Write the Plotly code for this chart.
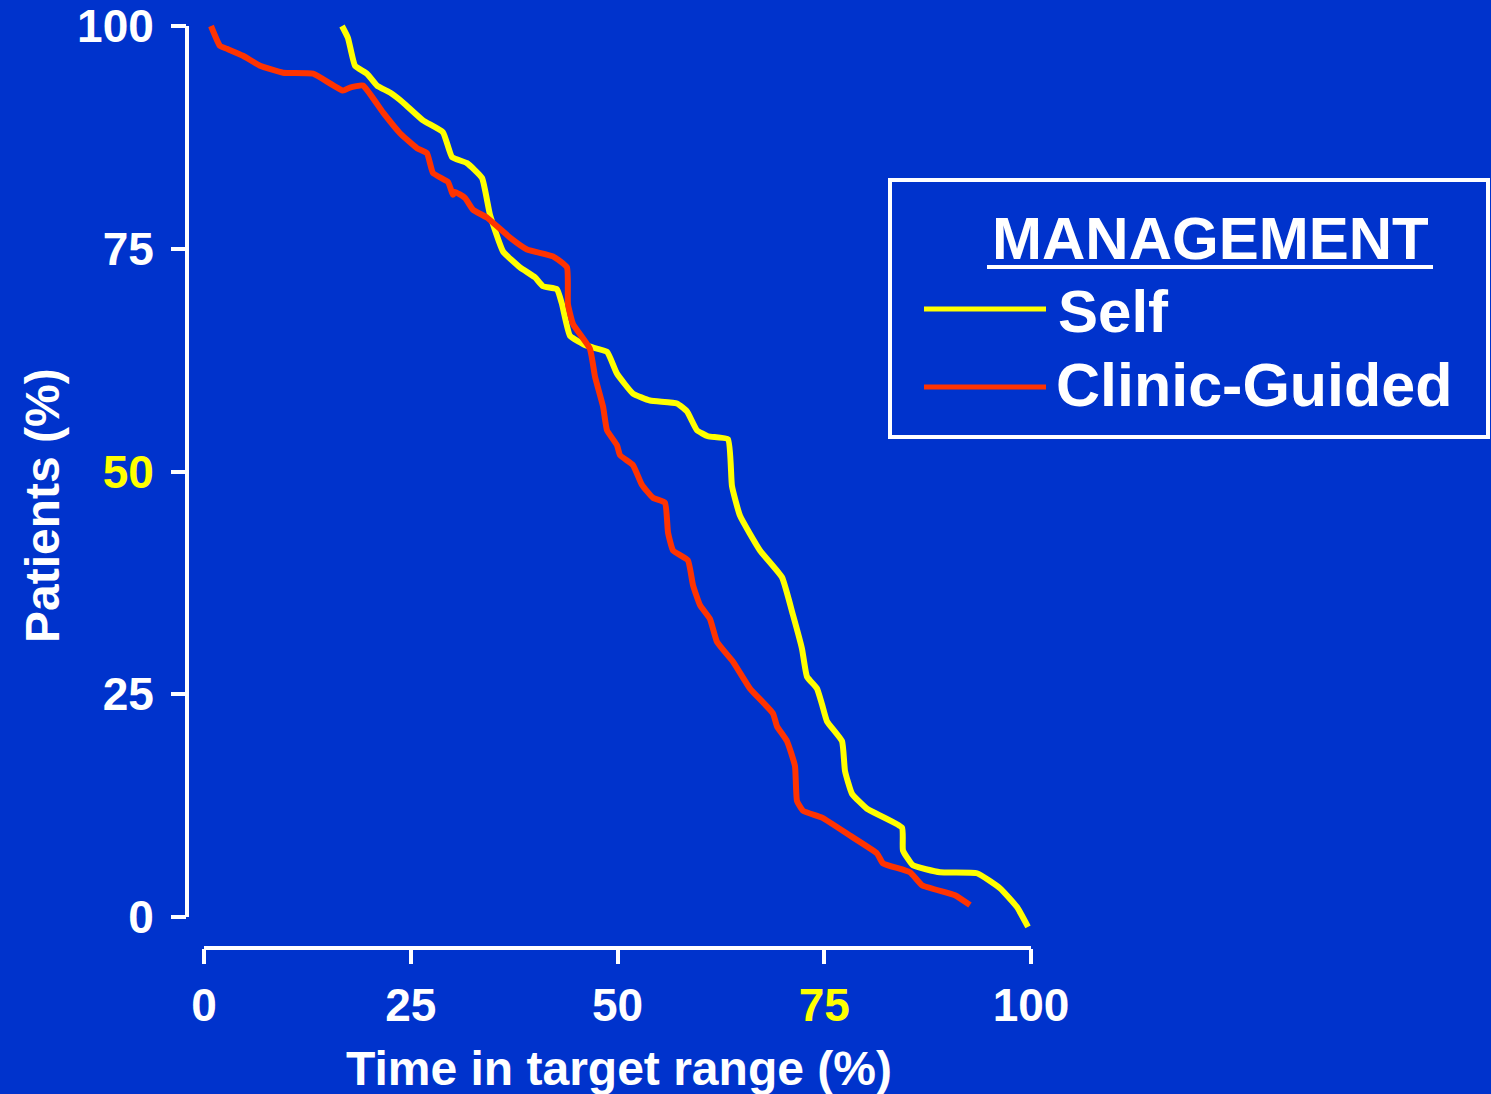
import plotly.graph_objects as go

# Self management curve (time in target range % vs patients %)
self_x = [16.69, 17.41, 18.26, 19.71, 20.92, 22.49, 24.06, 26.48, 28.90, 29.99,
          31.80, 33.62, 34.58, 36.16, 38.21, 40.02, 40.99, 42.68, 43.29, 44.26,
          46.31, 48.73, 49.94, 51.87, 53.93, 57.19, 58.40, 59.61, 60.94, 63.36,
          63.84, 64.81, 67.23, 69.89, 71.22, 72.31, 72.91, 74.12, 74.73, 75.33,
          77.15, 77.51, 78.36, 80.17, 84.40, 84.52, 85.73, 89.00, 93.47, 96.25,
          98.31, 99.64]
self_y = [100.0, 98.66, 95.54, 94.65, 93.31, 92.53, 91.42, 89.41, 88.07, 85.28,
          84.61, 82.94, 78.82, 74.69, 72.91, 71.79, 70.79, 70.46, 68.78, 65.22,
          64.10, 63.43, 60.98, 58.75, 57.97, 57.64, 56.74, 54.63, 53.96, 53.62,
          48.38, 45.04, 41.14, 38.13, 33.89, 30.10, 26.98, 25.64, 23.86, 21.96,
          19.73, 16.39, 13.82, 12.15, 10.03, 7.47, 5.80, 5.02, 4.91, 3.23,
          1.11, -1.11]

# Clinic-guided curve
clinic_x = [0.85, 1.93, 2.78, 4.72, 6.77, 9.55, 13.18, 16.81, 17.65, 19.23,
            21.64, 23.70, 25.76, 26.96, 27.69, 29.50, 30.11, 30.35, 31.56, 32.53,
            34.22, 37.00, 39.06, 42.20, 43.89, 44.01, 44.62, 46.67, 47.28, 48.25,
            48.73, 49.94, 50.30, 51.87, 52.96, 54.29, 55.74, 56.11, 56.71, 58.52,
            59.13, 59.98, 61.19, 62.03, 63.97, 66.02, 68.80, 69.29, 70.50, 71.46,
            71.70, 72.43, 74.73, 78.11, 81.38, 82.10, 85.37, 86.82, 90.81, 92.62]
clinic_y = [100.0, 97.77, 97.44, 96.66, 95.54, 94.76, 94.65, 92.75, 93.09, 93.31,
            90.30, 87.96, 86.29, 85.73, 83.50, 82.50, 81.05, 81.38, 80.71, 79.38,
            78.49, 76.25, 74.92, 74.14, 72.91, 68.78, 66.56, 63.77, 60.65, 57.30,
            54.63, 52.95, 51.84, 50.72, 48.49, 47.05, 46.49, 43.14, 41.14, 40.03,
            37.24, 35.00, 33.44, 30.88, 28.65, 25.64, 22.85, 21.40, 19.73, 16.95,
            13.04, 11.93, 11.15, 9.14, 7.13, 6.02, 5.02, 3.57, 2.45, 1.34]

tick_vals = [0, 25, 50, 75, 100]
y_tick_text = ["0", "25", "<span style='color:#FFFF00'>50</span>", "75", "100"]
x_tick_text = ["0", "25", "50", "<span style='color:#FFFF00'>75</span>", "100"]

BG = "#0033CC"
YELLOW = "#FFFF00"
RED = "#FF3300"
FONT = "Liberation Sans, Arial, sans-serif"

W, H = 1491, 1094
L, R, T, B = 187, 1040, 16, 948  # plot area in pixels
XS = 8.27  # px per x unit
YS = 8.91  # px per y unit


def px(x):
    return (x - L) / (R - L)


def py(y):
    return (B - y) / (B - T)


fig = go.Figure()
fig.add_trace(go.Scatter(x=self_x, y=self_y, mode="lines", name="Self",
                         line=dict(color=YELLOW, width=6, shape="spline", smoothing=0.4),
                         cliponaxis=False))
fig.add_trace(go.Scatter(x=clinic_x, y=clinic_y, mode="lines", name="Clinic-Guided",
                         line=dict(color=RED, width=6, shape="spline", smoothing=0.4),
                         cliponaxis=False))

shapes = [
    # detached axis lines
    dict(type="line", xref="x", yref="paper", x0=0, x1=100, y0=0, y1=0,
         line=dict(color="white", width=4)),
    dict(type="line", xref="paper", yref="y", x0=0, x1=0, y0=0, y1=100,
         line=dict(color="white", width=4)),
    # legend box
    dict(type="rect", xref="paper", yref="paper", x0=px(890), x1=px(1488),
         y0=py(437), y1=py(180), line=dict(color="white", width=4)),
    dict(type="line", xref="paper", yref="paper", x0=px(987), x1=px(1433),
         y0=py(267), y1=py(267), line=dict(color="white", width=4)),
    dict(type="line", xref="paper", yref="paper", x0=px(924), x1=px(1046),
         y0=py(309), y1=py(309), line=dict(color=YELLOW, width=5)),
    dict(type="line", xref="paper", yref="paper", x0=px(924), x1=px(1046),
         y0=py(387), y1=py(387), line=dict(color=RED, width=5)),
]

annotations = [
    dict(text="MANAGEMENT", xref="paper", yref="paper", x=px(1210), y=py(238),
         xanchor="center", yanchor="middle", showarrow=False,
         font=dict(size=60, color="white", family=FONT, weight="bold")),
    dict(text="Self", xref="paper", yref="paper", x=px(1056), y=py(311),
         xanchor="left", yanchor="middle", showarrow=False,
         font=dict(size=60, color="white", family=FONT, weight="bold")),
    dict(text="Clinic-Guided", xref="paper", yref="paper", x=px(1054), y=py(385),
         xanchor="left", yanchor="middle", showarrow=False,
         font=dict(size=61, color="white", family=FONT, weight="bold")),
    dict(text="Patients (%)", xref="paper", yref="paper", x=px(42), y=py(506),
         xanchor="center", yanchor="middle", textangle=-90, showarrow=False,
         font=dict(size=48, color="white", family=FONT, weight="bold")),
    dict(text="Time in target range (%)", xref="paper", yref="paper", x=px(619), y=py(1068),
         xanchor="center", yanchor="middle", showarrow=False,
         font=dict(size=48, color="white", family=FONT, weight="bold")),
]

axis_common = dict(
    showgrid=False, zeroline=False, showline=False, automargin=False,
    ticks="outside", ticklen=15, tickwidth=4, tickcolor="white",
    tickvals=tick_vals, ticklabeloverflow="allow",
    tickfont=dict(size=46, color="white", family=FONT, weight="bold"),
)

fig.update_layout(
    width=W, height=H,
    margin=dict(l=L, r=W - R, t=T, b=H - B, pad=0, autoexpand=False),
    paper_bgcolor=BG, plot_bgcolor=BG,
    showlegend=False,
    shapes=shapes,
    annotations=annotations,
    xaxis=dict(range=[-17 / XS, 100 + 9 / XS], ticktext=x_tick_text,
               ticklabelstandoff=2, **axis_common),
    yaxis=dict(range=[-31 / YS, 100 + 10 / YS], ticktext=y_tick_text,
               ticklabelstandoff=8, **axis_common),
)

fig.write_html("out.html", config={"displayModeBar": False},
               post_script="document.body.style.margin='0px';document.body.style.overflow='hidden';")
